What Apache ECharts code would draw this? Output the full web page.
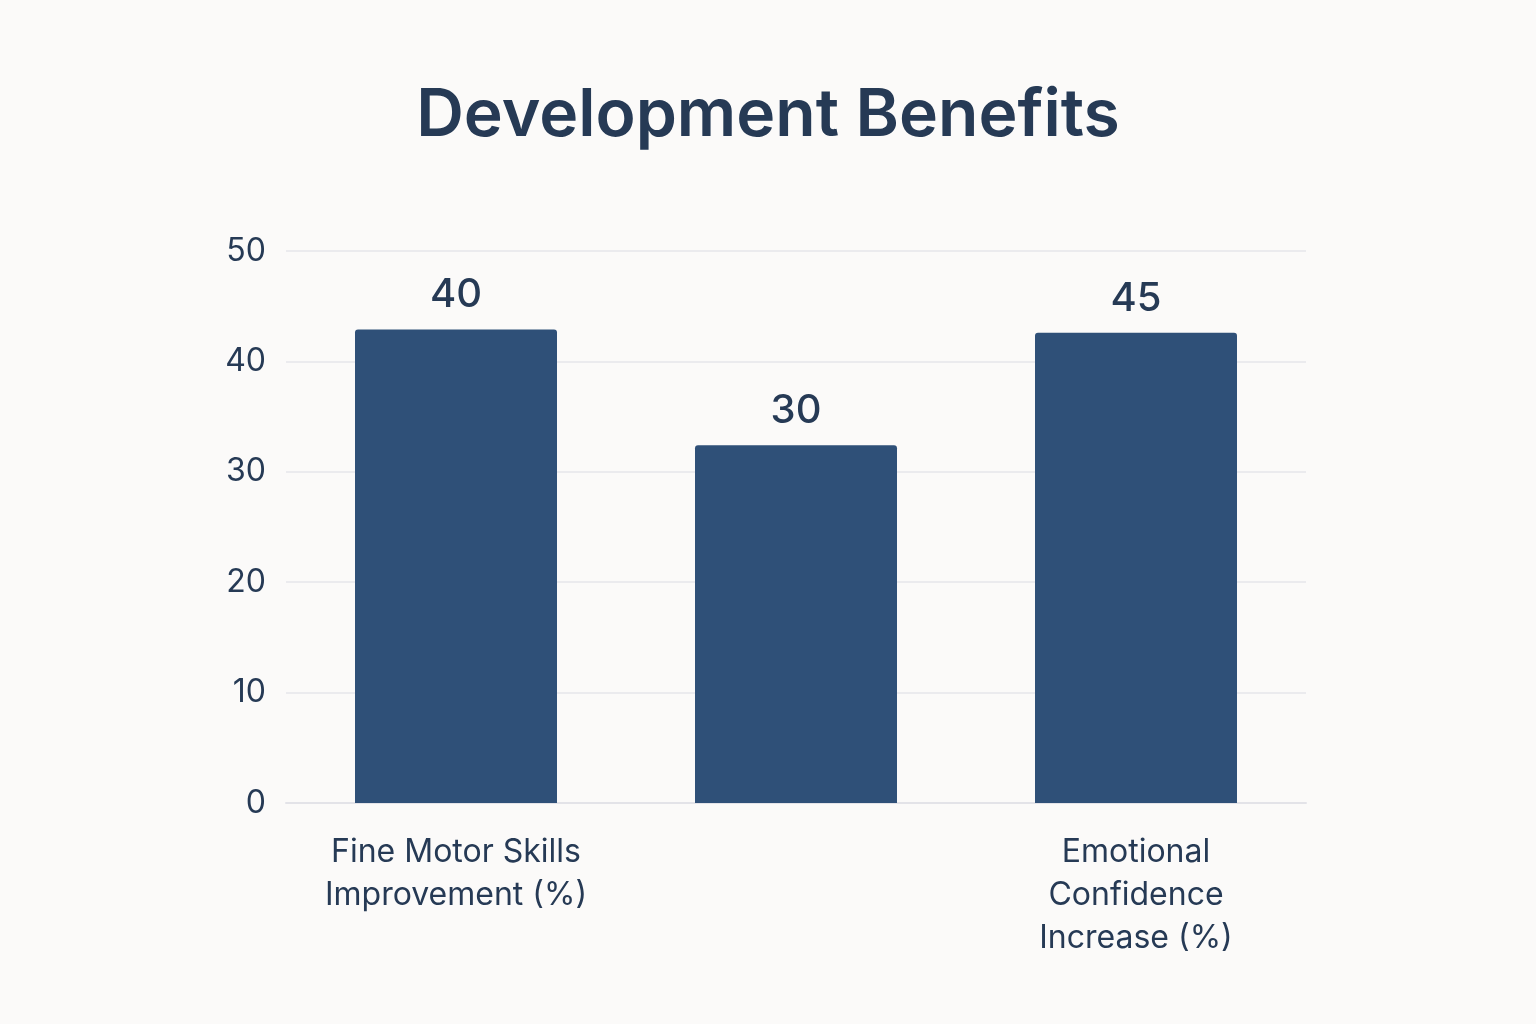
<!DOCTYPE html>
<html>
<head>
<meta charset="utf-8">
<script src="https://cdn.jsdelivr.net/npm/echarts@6/dist/echarts.min.js"></script>
<style>html,body{margin:0;padding:0;background:#fbfaf9;}#chart{width:1536px;height:1024px;}</style>
</head>
<body>
<div id="chart"></div>
<script>
// categories and values
const categories = ['Fine Motor Skills\nImprovement (%)', 'Average Focus\nTime (minutes)', 'Emotional\nConfidence\nIncrease (%)'];
const barValues = [42.9, 32.4, 42.6];   // bar heights as drawn
const barLabels = ['40', '30', '45'];   // printed labels above bars

const chart = echarts.init(document.getElementById('chart'));
const textColor = '#263a55';

chart.setOption({
  backgroundColor: '#fbfaf9',
  textStyle: { fontFamily: 'Inter, "Noto Sans", sans-serif' },
  title: {
    text: 'Development Benefits',
    left: 'center',
    top: 78,
    textStyle: { fontSize: 66, fontWeight: 600, color: textColor }
  },
  grid: { left: 286, right: 230, top: 251, bottom: 221 },
  xAxis: {
    type: 'category',
    data: categories,
    axisLine: { show: true, lineStyle: { color: '#e3e3e8', width: 2 } },
    axisTick: { show: false },
    axisLabel: { color: textColor, fontSize: 32, lineHeight: 43, margin: 28 }
  },
  yAxis: {
    type: 'value',
    min: 0, max: 50, interval: 10,
    axisLine: { show: false },
    axisTick: { show: false },
    splitLine: { lineStyle: { color: '#e6e6ea', width: 1.5 } },
    axisLabel: { color: textColor, fontSize: 32, margin: 20 }
  },
  series: [{
    type: 'bar',
    data: barValues,
    barWidth: 202,
    itemStyle: { color: '#2f5078', borderRadius: [3, 3, 0, 0] },
    label: {
      show: true,
      position: 'top',
      distance: 14,
      fontSize: 40,
      fontWeight: 500,
      color: textColor,
      formatter: p => barLabels[p.dataIndex]
    }
  }]
});
</script>
</body>
</html>
